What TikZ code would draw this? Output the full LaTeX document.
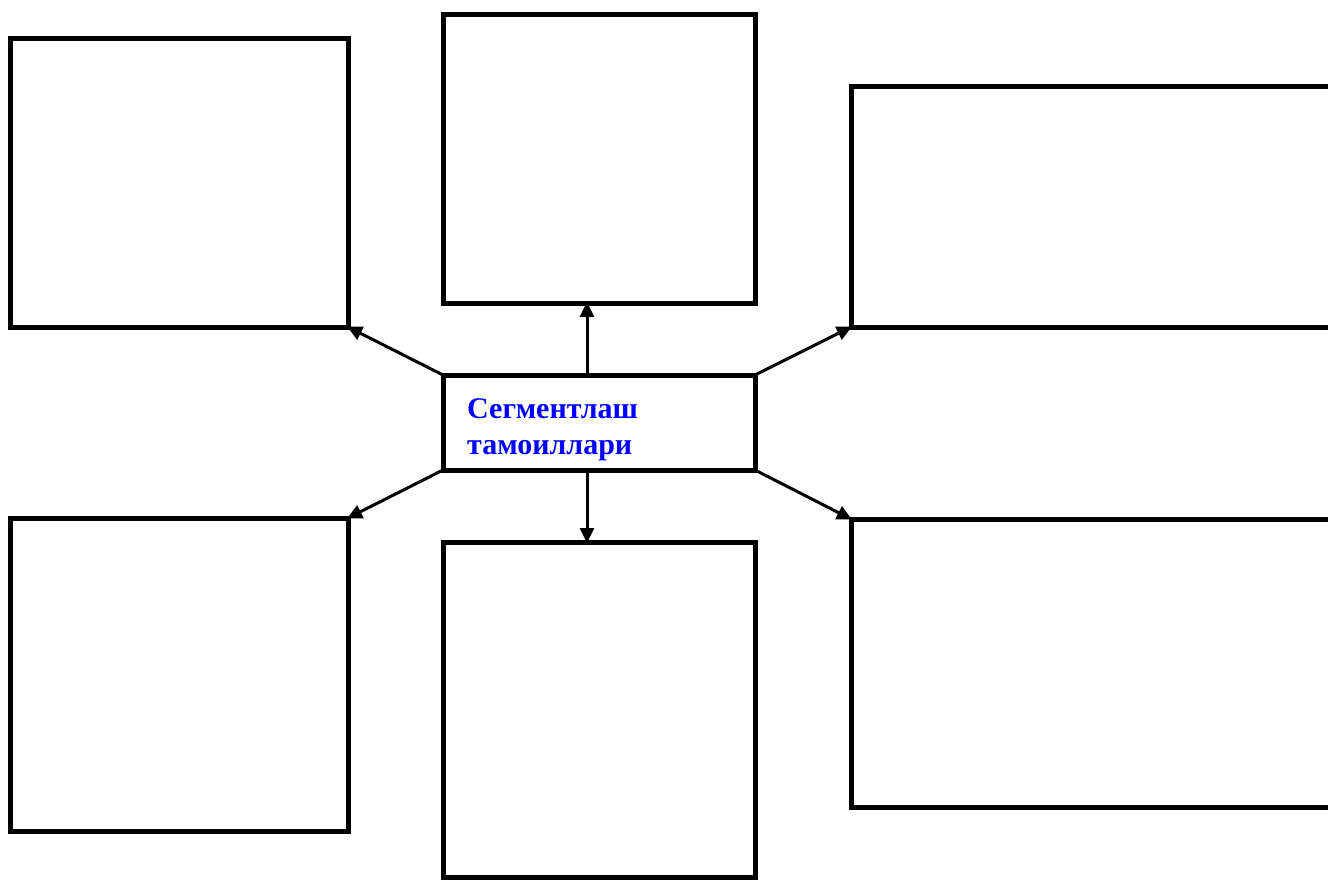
\documentclass[tikz,border=0pt]{standalone}
\usepackage{fontspec}
\setmainfont{Liberation Serif}
\usetikzlibrary{arrows.meta}
\begin{document}
\begin{tikzpicture}[x=1pt,y=-1pt,
  frame/.style={draw=black, line width=5pt, fill=white, outer sep=0pt, inner sep=0pt},
  txt/.style={text=blue, font=\fontsize{30}{36}\selectfont\bfseries, inner sep=0pt, anchor=base west},
  arr/.style={line width=3pt, -{Triangle[length=15pt,width=14pt]}, shorten >=-1pt}]
\clip (0,0) rectangle (1328,879);
\fill[white] (0,0) rectangle (1328,879);
% boxes (corner coordinates in pixels)
\node[frame, minimum width=338, minimum height=289, anchor=north west] (tl) at (10,38) {};
\node[frame, minimum width=312, minimum height=289, anchor=north west] (tc) at (443,14) {};
\node[frame, minimum width=500, minimum height=241, anchor=north west] (tr) at (851,86) {};
\node[frame, minimum width=338, minimum height=313, anchor=north west] (bl) at (10,518) {};
\node[frame, minimum width=312, minimum height=335, anchor=north west] (bc) at (443,542) {};
\node[frame, minimum width=500, minimum height=288, anchor=north west] (br) at (851,519) {};
% centre
\node[frame, minimum width=312, minimum height=95, anchor=north west] (c) at (443,375) {};
\node[txt] (t1) at (467,418) {Сегментлаш};
\node[txt] (t2) at (467,454) {тамоиллари};
% connectors
\draw[arr] (c.north west) -- (tl.south east);
\draw[arr] ([xshift=-12]c.north) -- ([xshift=-12]tc.south);
\draw[arr] (c.north east) -- (tr.south west);
\draw[arr] (c.south west) -- (bl.north east);
\draw[arr] ([xshift=-12]c.south) -- ([xshift=-12]bc.north);
\draw[arr] (c.south east) -- (br.north west);
\end{tikzpicture}
\end{document}
